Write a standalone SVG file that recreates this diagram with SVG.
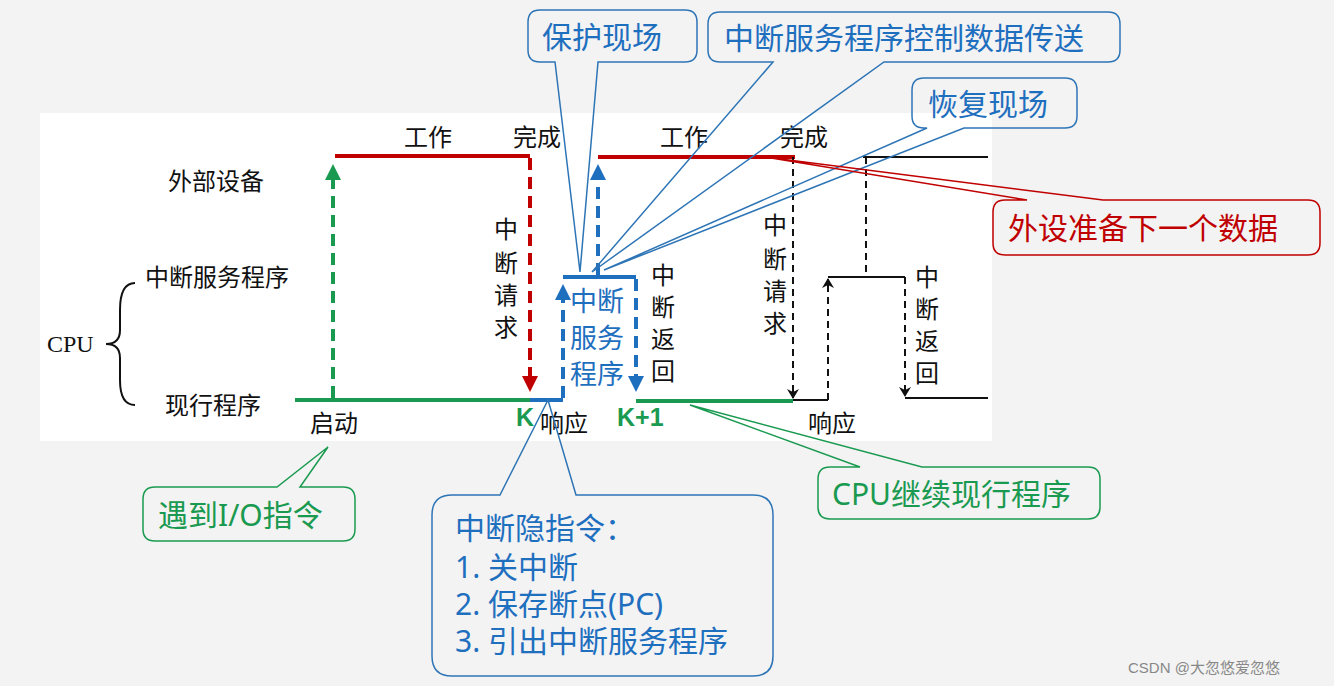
<svg xmlns="http://www.w3.org/2000/svg" width="1334" height="686" viewBox="0 0 1334 686">
<defs>
<style>
.t{font-family:"Liberation Serif","Noto Sans CJK SC",serif;font-size:24px;fill:#111}
.c{font-family:"Noto Sans","Noto Sans CJK SC",sans-serif;font-size:30px}
.r{stroke:#c00000;stroke-width:4;fill:none}
.g{stroke:#1a9a50;stroke-width:4;fill:none}
.b{stroke:#1f6fbf;stroke-width:4;fill:none}
.k{stroke:#111;stroke-width:2;fill:none}
.d{stroke-dasharray:12,7}
.dk{stroke-dasharray:7,5}
.cb{fill:none;stroke:#2e75b6;stroke-width:1.5}
.cr{fill:none;stroke:#c00000;stroke-width:1.5}
.cg{fill:none;stroke:#1a9a50;stroke-width:1.5}
</style>
<marker id="ar" markerWidth="4" markerHeight="4" refX="3" refY="2" orient="auto"><path d="M0,0 L4,2 L0,4z" fill="#c00000"/></marker>
<marker id="ag" markerWidth="4" markerHeight="4" refX="3" refY="2" orient="auto"><path d="M0,0 L4,2 L0,4z" fill="#1a9a50"/></marker>
<marker id="ab" markerWidth="4" markerHeight="4" refX="3" refY="2" orient="auto"><path d="M0,0 L4,2 L0,4z" fill="#1f6fbf"/></marker>
<marker id="ak" markerWidth="10" markerHeight="12" refX="9" refY="6" orient="auto" markerUnits="userSpaceOnUse"><path d="M0,0 L10,6 L0,12 L3,6z" fill="#111"/></marker>
</defs>
<rect width="1334" height="686" fill="#f3f3f3"/>
<rect x="40" y="113" width="952" height="328" fill="#fff"/>
<g id="labels">
<text class="t" x="168" y="190">外部设备</text>
<text class="t" x="145" y="286">中断服务程序</text>
<text class="t" x="47" y="352">CPU</text>
<text class="t" x="165" y="414">现行程序</text>
<path d="M135,283 Q120,283 120,310 L120,330 Q120,344 106,344 Q120,344 120,358 L120,380 Q120,405 135,405" class="k"/>
<text class="t" x="404" y="146">工作</text><text class="t" x="513" y="146">完成</text>
<text class="t" x="660" y="146">工作</text><text class="t" x="780" y="146">完成</text>
<text class="t" x="494" y="238">中</text><text class="t" x="494" y="272">断</text><text class="t" x="494" y="304">请</text><text class="t" x="494" y="336">求</text>
<text class="t" x="651" y="284">中</text><text class="t" x="651" y="316">断</text><text class="t" x="651" y="348">返</text><text class="t" x="651" y="380">回</text>
<text class="t" x="763" y="234">中</text><text class="t" x="763" y="268">断</text><text class="t" x="763" y="300">请</text><text class="t" x="763" y="332">求</text>
<text class="t" x="915" y="286">中</text><text class="t" x="915" y="318">断</text><text class="t" x="915" y="350">返</text><text class="t" x="915" y="382">回</text>
<text class="t" x="310" y="432">启动</text><text class="t" x="540" y="432">响应</text><text class="t" x="808" y="432">响应</text>
<text x="516" y="426" style="font-family:'Liberation Sans',sans-serif;font-weight:bold;font-size:25px;fill:#1a9a50">K</text>
<text x="617" y="426" style="font-family:'Liberation Sans',sans-serif;font-weight:bold;font-size:25px;fill:#1a9a50">K+1</text>
<g style="font-family:'Noto Sans CJK SC',sans-serif;font-size:27px;fill:#1f6fbf">
<text x="570" y="311">中断</text><text x="570" y="348">服务</text><text x="570" y="384">程序</text></g>
</g>
<g id="connectors">
<path d="M335,156 H530" class="r"/>
<path d="M530,158 V388" class="r d" marker-end="url(#ar)"/>
<path d="M295,400 H530" class="g"/>
<path d="M333,398 V168" class="g d" marker-end="url(#ag)"/>
<path d="M530,400 H563" class="b"/>
<path d="M563,398 V288" class="b d" marker-end="url(#ab)"/>
<path d="M563,277 H636" class="b"/>
<path d="M636,279 V388" class="b d" marker-end="url(#ab)"/>
<path d="M598,275 V168" class="b d" marker-end="url(#ab)"/>
<path d="M598,157 H795" class="r"/>
<path d="M636,401 H793" class="g"/>
<path d="M793,157 V398" class="k dk" marker-end="url(#ak)"/>
<path d="M793,400 H828" class="k"/>
<path d="M828,400 V279" class="k dk" marker-end="url(#ak)"/>
<path d="M828,277 H905" class="k"/>
<path d="M866,157 V277" class="k dk"/>
<path d="M863,157 H988" class="k"/>
<path d="M905,277 V396" class="k dk" marker-end="url(#ak)"/>
<path d="M905,398 H988" class="k"/>
</g>
<g id="callout-protect">
<path d="M540,10 H685 Q697,10 697,22 V50 Q697,62 685,62 H598 L580,272 L555,62 H540 Q528,62 528,50 V22 Q528,10 540,10z" class="cb"/>
<text class="c" x="542" y="48" fill="#1f6fbf">保护现场</text>
</g>
<g id="callout-transfer">
<path d="M720,12 H1108 Q1120,12 1120,24 V50 Q1120,62 1108,62 H884 L592,272 L773,62 H720 Q708,62 708,50 V24 Q708,12 720,12z" class="cb"/>
<text class="c" x="724" y="49" fill="#1f6fbf">中断服务程序控制数据传送</text>
</g>
<g id="callout-restore">
<path d="M924,78 H1065 Q1077,78 1077,90 V116 Q1077,128 1065,128 H964 L604,270 L927,128 H924 Q912,128 912,116 V90 Q912,78 924,78z" class="cb"/>
<text class="c" x="928" y="115" fill="#1f6fbf">恢复现场</text>
</g>
<g id="callout-next">
<path d="M1005,200 H1027 L765,157 L1103,200 H1308 Q1320,200 1320,212 V243 Q1320,255 1308,255 H1005 Q993,255 993,243 V212 Q993,200 1005,200z" class="cr"/>
<text class="c" x="1008" y="239" fill="#c00000">外设准备下一个数据</text>
</g>
<g id="callout-io">
<path d="M155,487 H277 L328,447 L300,487 H343 Q355,487 355,499 V529 Q355,541 343,541 H155 Q143,541 143,529 V499 Q143,487 155,487z" class="cg"/>
<text class="c" x="158" y="526" fill="#1a9a50">遇到I/O指令</text>
</g>
<g id="callout-implicit">
<path d="M452,495 H500 L548,400 L576,495 H753 Q773,495 773,515 V656 Q773,676 753,676 H452 Q432,676 432,656 V515 Q432,495 452,495z" class="cb"/>
<g class="c" fill="#1f6fbf"><text x="455" y="539">中断隐指令：</text><text x="455" y="578">1. 关中断</text><text x="455" y="615">2. 保存断点(PC)</text><text x="455" y="652">3. 引出中断服务程序</text></g>
</g>
<g id="callout-cpu">
<path d="M830,467 H860 L690,405 L922,467 H1088 Q1100,467 1100,479 V507 Q1100,519 1088,519 H830 Q818,519 818,507 V479 Q818,467 830,467z" class="cg"/>
<text class="c" x="832" y="505" fill="#1a9a50">CPU继续现行程序</text>
</g>
<text x="1128" y="673" style="font-family:'Liberation Sans','Noto Sans CJK SC',sans-serif;font-size:15px;fill:#888">CSDN @大忽悠爱忽悠</text>
</svg>
